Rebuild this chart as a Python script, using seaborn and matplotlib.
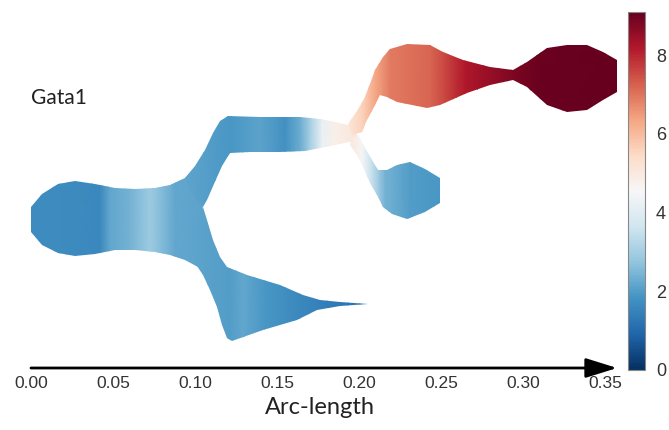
import numpy as np
import matplotlib
matplotlib.use("Agg")
import matplotlib.pyplot as plt
from matplotlib.patches import Polygon
from matplotlib.colors import Normalize
from matplotlib.cm import ScalarMappable
import seaborn as sns


# ===============================
# DATA
# ===============================

gene = "Gata1"
ticks_x = [0.00, 0.05, 0.10, 0.15, 0.20, 0.25, 0.30, 0.35]
cbar_ticks = [0, 2, 4, 6, 8]
expr_min, expr_max = 0.0, 9.1

# root branch outline (arc-length, stream width units)
root_x = [0.0, 0.0067, 0.0165, 0.0268, 0.0390, 0.0512, 0.0634, 0.0756, 0.0848, 0.0939, 0.1018,
          0.1049, 0.1018, 0.0939, 0.0848, 0.0756, 0.0634, 0.0512, 0.0390, 0.0268, 0.0165, 0.0067, 0.0]
root_y = [165, 178, 188, 191, 188, 184, 183, 184, 187, 194, 206,
          167, 105, 112, 117, 120, 122, 122, 118, 116, 119, 127, 140]
root_pos = [0.0, 0.0177, 0.0421, 0.0482, 0.0604, 0.0726, 0.0787, 0.0878, 0.1049]
root_expr = [1.7, 1.7, 1.6, 2.2, 2.4, 2.9, 2.6, 2.2, 2.1]

# upper middle branch
mid_x = [0.0939, 0.1000, 0.1061, 0.1110, 0.1152, 0.1201, 0.1396, 0.1640, 0.1762, 0.1854, 0.1933, 0.1988,
         0.1988, 0.1884, 0.1793, 0.1671, 0.1518, 0.1335, 0.1213, 0.1165, 0.1116, 0.1073, 0.1049, 0.0970]
mid_y = [194, 206, 222, 239, 251, 256, 255, 255, 253, 250, 247, 245,
         232, 228, 225, 221, 220, 220, 219, 206, 188, 172, 165, 182]
mid_pos = [0.0939, 0.1213, 0.1396, 0.1549, 0.1640, 0.1701, 0.1774, 0.1854, 0.1988]
mid_expr = [2.15, 1.9, 2.1, 1.8, 2.3, 3.0, 4.2, 4.8, 5.1]

# upper right branch (high Gata1)
top_x = [0.1933, 0.1988, 0.2030, 0.2067, 0.2098, 0.2146, 0.2189, 0.2293, 0.2433, 0.2512, 0.2634, 0.2799,
         0.2939, 0.3024, 0.3146, 0.3268, 0.3390, 0.3488, 0.3573, 0.3573, 0.3488, 0.3390, 0.3268, 0.3146,
         0.3024, 0.2939, 0.2799, 0.2659, 0.2494, 0.2415, 0.2232, 0.2171, 0.2128, 0.2085, 0.2043, 0.2018, 0.1957]
top_y = [248, 261, 273, 288, 302, 315, 323, 328, 327, 320, 312, 305,
         302, 310, 324, 327, 327, 320, 312, 280, 272, 262, 260, 267,
         285, 292, 287, 279, 267, 264, 270, 275, 277, 263, 250, 240, 237]
top_pos = [0.1933, 0.2018, 0.2098, 0.2189, 0.2433, 0.2524, 0.2646, 0.2799, 0.2982, 0.3104, 0.3573]
top_expr = [5.1, 5.6, 6.3, 6.9, 7.2, 7.6, 8.2, 8.5, 8.9, 9.05, 9.1]

# small lower right branch
side_x = [0.1957, 0.1994, 0.2037, 0.2079, 0.2116, 0.2171, 0.2232, 0.2311, 0.2402, 0.2494,
          0.2494, 0.2402, 0.2293, 0.2201, 0.2146, 0.2110, 0.2067, 0.2024, 0.1988, 0.1945]
side_y = [234, 237, 224, 212, 202, 202, 207, 210, 203, 194,
          169, 160, 153, 158, 165, 177, 189, 205, 217, 227]
side_pos = [0.1945, 0.2018, 0.2079, 0.2159, 0.2311, 0.2494]
side_expr = [5.1, 4.5, 3.5, 2.4, 2.0, 1.9]

# lower branch
low_x = [0.0970, 0.1049, 0.1073, 0.1110, 0.1152, 0.1195, 0.1317, 0.1518, 0.1659, 0.1762, 0.1884, 0.2055,
         0.1884, 0.1744, 0.1622, 0.1415, 0.1226, 0.1195, 0.1165, 0.1134, 0.1091, 0.1049, 0.1000]
low_y = [127, 165, 152, 132, 115, 105, 97, 87, 77, 72, 70, 68,
         66, 62, 52, 42, 31, 34, 47, 65, 82, 97, 109]
low_pos = [0.0970, 0.1213, 0.1293, 0.1427, 0.1640, 0.1884, 0.2055]
low_expr = [2.15, 2.0, 2.2, 1.9, 1.6, 1.3, 1.2]


# ===============================
# PLOT
# ===============================

sns.set_theme(style="white")
plt.rcParams["font.family"] = ["Liberation Sans", "DejaVu Sans"]

cmap = sns.color_palette("RdBu_r", as_cmap=True)
norm = Normalize(vmin=expr_min, vmax=expr_max)

fig = plt.figure(figsize=(6.69, 4.30), dpi=100)
ax = fig.add_axes([20/669, 58/430, 600/669, 362/430])

branches = [
    (root_x, root_y, root_pos, root_expr),
    (low_x, low_y, low_pos, low_expr),
    (mid_x, mid_y, mid_pos, mid_expr),
    (side_x, side_y, side_pos, side_expr),
    (top_x, top_y, top_pos, top_expr),
]

for bx, by, pos, expr in branches:
    outline = Polygon(np.column_stack([bx, by]), closed=True,
                      facecolor="none", edgecolor="none")
    ax.add_patch(outline)
    X = np.array([pos, pos])
    Y = np.array([[min(by) - 5] * len(pos), [max(by) + 5] * len(pos)])
    C = np.array([expr, expr])
    mesh = ax.pcolormesh(X, Y, C, cmap=cmap, norm=norm, shading="gouraud")
    mesh.set_clip_path(outline)

# arc-length arrow
ax.annotate("", xy=(0.3573, 4), xytext=(0.0, 4),
            arrowprops=dict(arrowstyle="-|>,head_length=1.6,head_width=0.5",
                            lw=2, color="black", shrinkA=0, shrinkB=0))

ax.text(0.0, 274, gene, fontsize=15, color="#222222", ha="left", va="center",
        family=["Lato", "DejaVu Sans"])

ax.set_xlim(-0.0067, 0.3591)
ax.set_ylim(0, 362)
ax.set_xticks(ticks_x)
ax.set_xticklabels(["%.2f" % t for t in ticks_x])
ax.set_yticks([])
ax.tick_params(axis="x", length=0, pad=3, labelsize=12.5, labelcolor="#333333")
ax.set_xlabel("Arc-length", fontsize=17, color="#222222", labelpad=4,
              family=["Lato", "DejaVu Sans"])
sns.despine(ax=ax, left=True, bottom=True)

# colorbar
cax = fig.add_axes([628/669, 60/430, 17/669, 358/430])
sm = ScalarMappable(norm=norm, cmap=cmap)
cb = fig.colorbar(sm, cax=cax, ticks=cbar_ticks)
cb.outline.set_edgecolor("#888888")
cb.outline.set_linewidth(0.8)
cax.tick_params(length=0, pad=8, labelsize=13, labelcolor="#333333")

fig.savefig("out.png", dpi=100)
